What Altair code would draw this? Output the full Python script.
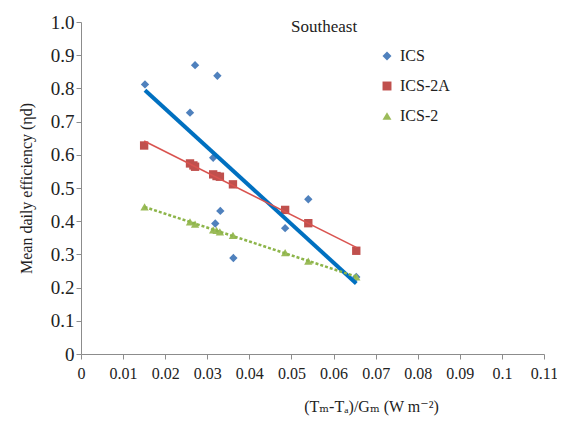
import altair as alt
import pandas as pd

series_order = ["ICS", "ICS-2A", "ICS-2"]

ics_x = [0.0152, 0.0271, 0.0324, 0.0259, 0.0314, 0.0331, 0.0319, 0.0362, 0.0485, 0.0540, 0.0654]
ics_y = [0.812, 0.870, 0.838, 0.727, 0.591, 0.431, 0.393, 0.289, 0.379, 0.466, 0.232]

ics2a_x = [0.0150, 0.0259, 0.0267, 0.0271, 0.0314, 0.0322, 0.0330, 0.0361, 0.0485, 0.0540, 0.0654]
ics2a_y = [0.628, 0.574, 0.568, 0.564, 0.541, 0.536, 0.534, 0.511, 0.434, 0.394, 0.311]

ics2_x = [0.0151, 0.0259, 0.0271, 0.0314, 0.0322, 0.0330, 0.0361, 0.0485, 0.0540, 0.0654]
ics2_y = [0.443, 0.398, 0.391, 0.374, 0.372, 0.368, 0.357, 0.305, 0.280, 0.232]

x_ticks = [0, 0.01, 0.02, 0.03, 0.04, 0.05, 0.06, 0.07, 0.08, 0.09, 0.1, 0.11]
y_ticks = [0, 0.1, 0.2, 0.3, 0.4, 0.5, 0.6, 0.7, 0.8, 0.9, 1.0]

rows = []
for name, xs, ys in [("ICS", ics_x, ics_y), ("ICS-2A", ics2a_x, ics2a_y), ("ICS-2", ics2_x, ics2_y)]:
    for a, b in zip(xs, ys):
        rows.append({"series": name, "x": a, "y": b})
df = pd.DataFrame(rows)

FONT = "'Liberation Serif', 'DejaVu Serif', serif"
point_colors = ["#4F81BD", "#C0504D", "#9BBB59"]

x_axis = alt.Axis(values=x_ticks, labelExpr="format(datum.value, '~g')",
                  title="(Tₘ-Tₐ)/Gₘ (W m⁻²)", grid=False, labelOverlap=False,
                  domainColor="#8c8c8c", tickColor="#8c8c8c", tickSize=5,
                  labelFont=FONT, labelFontSize=16, labelColor="#222222",
                  labelPadding=6, labelFlush=False,
                  titleFont=FONT, titleFontSize=16, titleFontWeight="normal",
                  titleColor="#222222", titleX=290, titleY=52,
                  titleBaseline="middle")
y_axis = alt.Axis(values=y_ticks, labelOverlap=False, tickCount=11,
                  labelExpr="datum.value == 0 ? '0' : format(datum.value, '.1f')",
                  title="Mean daily efficiency (ηd)", grid=False,
                  domainColor="#8c8c8c", tickColor="#8c8c8c", tickSize=5,
                  labelFont=FONT, labelFontSize=19, labelColor="#222222",
                  labelPadding=2, labelFlush=False,
                  titleFont=FONT, titleFontSize=16, titleFontWeight="normal",
                  titleColor="#222222", titlePadding=16)

x_scale = alt.Scale(domain=[0, 0.11], nice=False)
y_scale = alt.Scale(domain=[0, 1], nice=False)

points = alt.Chart(df).mark_point(filled=True, opacity=1, size=70).encode(
    x=alt.X("x:Q", scale=x_scale, axis=x_axis),
    y=alt.Y("y:Q", scale=y_scale, axis=y_axis),
    color=alt.Color("series:N", scale=alt.Scale(domain=series_order, range=point_colors),
                    legend=alt.Legend(title=None, orient="none", legendX=298, legendY=26,
                                      labelFont=FONT, labelFontSize=16, labelColor="#222222",
                                      rowPadding=14, symbolSize=80, labelOffset=5)),
    shape=alt.Shape("series:N", scale=alt.Scale(domain=series_order,
                                                 range=["diamond", "square", "triangle-up"])),
)

line_styles = {
    "ICS": dict(color="#0070C0", strokeWidth=4),
    "ICS-2A": dict(color="#D9534F", strokeWidth=1.6),
    "ICS-2": dict(color="#8DB54A", strokeWidth=2.5, strokeDash=[3, 2]),
}
lines = []
for name in series_order:
    lines.append(
        alt.Chart(df).transform_filter(alt.datum.series == name)
        .transform_regression("x", "y")
        .mark_line(**line_styles[name])
        .encode(x=alt.X("x:Q", scale=x_scale, axis=x_axis),
                y=alt.Y("y:Q", scale=y_scale, axis=y_axis))
    )

chart = alt.layer(points, *lines).properties(
    width=463, height=332,
    title=alt.TitleParams("Southeast", anchor="start", frame="group", dx=210, offset=-23,
                          font=FONT, fontSize=17, fontWeight="normal", color="#222222"),
    autosize=alt.AutoSizeParams(type="none"),
    padding={"left": 73, "top": 14, "right": 13, "bottom": 64},
).configure_view(stroke=None)

chart.save("out.html", embed_options={"renderer": "svg", "actions": False})
